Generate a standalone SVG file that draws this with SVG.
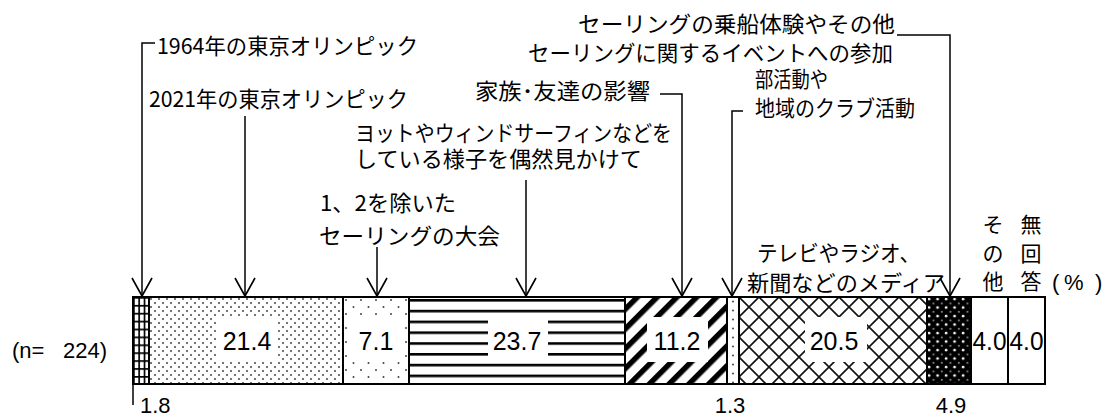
<svg xmlns="http://www.w3.org/2000/svg" width="1110" height="416" viewBox="0 0 1110 416">
<defs>
<style>
.lbl{font-family:'Noto Sans CJK JP','Noto Sans CJK SC',sans-serif;font-size:22px;fill:#000}
.vt{font-family:'Noto Sans CJK JP','Noto Sans CJK SC',sans-serif;font-size:21px;fill:#000;text-anchor:middle}
.num{font-family:'Liberation Sans',Arial,sans-serif;font-size:25px;fill:#000;text-anchor:middle}
.sm{font-family:'Liberation Sans',Arial,sans-serif;font-size:22px;fill:#000}
.cn{fill:none;stroke:#000;stroke-width:1.5}
.seg{stroke:#000;stroke-width:2}
.box{fill:#fff}
</style>
<marker id="arrow" markerUnits="userSpaceOnUse" markerWidth="22" markerHeight="24" viewBox="0 0 22 24" refX="20" refY="12" orient="auto">
<path d="M2,2 L20,12 L2,22" fill="none" stroke="#000" stroke-width="1.6"/>
</marker>
<pattern id="pGrid" patternUnits="userSpaceOnUse" x="133" y="297" width="5.33" height="7.9">
<rect width="5.33" height="7.9" fill="#fff"/>
<rect width="1.7" height="7.9" fill="#000"/>
<rect width="5.33" height="1.7" fill="#000"/>
</pattern>
<pattern id="pDots" patternUnits="userSpaceOnUse" x="149" y="297" width="8" height="8">
<rect width="8" height="8" fill="#fff"/>
<circle cx="2" cy="2" r="0.9" fill="#333"/>
<circle cx="6" cy="6" r="0.9" fill="#333"/>
</pattern>
<pattern id="pSparse" patternUnits="userSpaceOnUse" x="343" y="297" width="15" height="14">
<rect width="15" height="14" fill="#fff"/>
<circle cx="3" cy="3" r="1" fill="#444"/>
<circle cx="10.5" cy="10" r="1" fill="#444"/>
</pattern>
<pattern id="pH" patternUnits="userSpaceOnUse" x="409" y="299" width="10" height="10.8">
<rect width="10" height="10.8" fill="#fff"/>
<rect width="10" height="2.6" fill="#000"/>
</pattern>
<pattern id="pDiag" patternUnits="userSpaceOnUse" width="14" height="14" patternTransform="rotate(45)">
<rect width="14" height="14" fill="#fff"/>
<rect width="5.5" height="14" fill="#000"/>
</pattern>
<pattern id="pCol" patternUnits="userSpaceOnUse" x="727" y="297" width="12" height="9">
<rect width="12" height="9" fill="#fff"/>
<circle cx="6" cy="4.5" r="1" fill="#444"/>
</pattern>
<pattern id="pCross" patternUnits="userSpaceOnUse" x="739" y="297" width="20" height="20">
<rect width="20" height="20" fill="#fff"/>
<path d="M-1,-1 L21,21 M21,-1 L-1,21" stroke="#111" stroke-width="1.6"/>
</pattern>
<pattern id="pBlk" patternUnits="userSpaceOnUse" x="927" y="297" width="8.5" height="8.5">
<rect width="8.5" height="8.5" fill="#000"/>
<circle cx="2.1" cy="2.1" r="1.3" fill="#fff"/>
<circle cx="6.4" cy="6.4" r="1" fill="#999"/>
</pattern>
</defs>
<rect width="1110" height="416" fill="#fff"/>

<g id="bar">
<g id="seg1"><rect class="seg" x="133" y="297" width="16" height="87" fill="url(#pGrid)"/></g>
<g id="seg2"><rect class="seg" x="149" y="297" width="194" height="87" fill="url(#pDots)"/><rect class="box" x="217" y="317" width="60" height="45"/><text class="num" x="247" y="350">21.4</text></g>
<g id="seg3"><rect class="seg" x="343" y="297" width="66" height="87" fill="url(#pSparse)"/><rect class="box" x="350" y="317" width="52" height="45"/><text class="num" x="376" y="350">7.1</text></g>
<g id="seg4"><rect class="seg" x="409" y="297" width="216" height="87" fill="url(#pH)"/><rect class="box" x="488" y="317" width="60" height="45"/><text class="num" x="517" y="350">23.7</text></g>
<g id="seg5"><rect class="seg" x="625" y="297" width="102" height="87" fill="url(#pDiag)"/><rect class="box" x="647" y="317" width="61" height="45"/><text class="num" x="677" y="350">11.2</text></g>
<g id="seg6"><rect class="seg" x="727" y="297" width="12" height="87" fill="url(#pCol)"/></g>
<g id="seg7"><rect class="seg" x="739" y="297" width="188" height="87" fill="url(#pCross)"/><rect class="box" x="805" y="317" width="62" height="45"/><text class="num" x="834" y="350">20.5</text></g>
<g id="seg8"><rect class="seg" x="927" y="297" width="44" height="87" fill="url(#pBlk)"/></g>
<g id="seg9"><rect class="seg" x="971" y="297" width="37" height="87" fill="#fff"/><text class="num" x="989.5" y="350" textLength="34" lengthAdjust="spacingAndGlyphs">4.0</text></g>
<g id="seg10"><rect class="seg" x="1008" y="297" width="37" height="87" fill="#fff"/><text class="num" x="1026.5" y="350" textLength="34" lengthAdjust="spacingAndGlyphs">4.0</text></g>
</g>

<g id="connectors">
<path class="cn" d="M155,43 H142 V296" marker-end="url(#arrow)"/>
<path class="cn" d="M245,116 V296" marker-end="url(#arrow)"/>
<path class="cn" d="M377,247 V296" marker-end="url(#arrow)"/>
<path class="cn" d="M526,180 V296" marker-end="url(#arrow)"/>
<path class="cn" d="M660,94 H682 V296" marker-end="url(#arrow)"/>
<path class="cn" d="M743,111 H732 V296" marker-end="url(#arrow)"/>
<path class="cn" d="M897,35 H950 V296" marker-end="url(#arrow)"/>
<path class="cn" d="M133,384 V405"/>
</g>

<g id="labels">
<g id="l1"><text class="lbl" x="157" y="53.5" textLength="261" lengthAdjust="spacingAndGlyphs">1964年の東京オリンピック</text></g>
<g id="l2"><text class="lbl" x="149" y="106.5" textLength="259" lengthAdjust="spacingAndGlyphs">2021年の東京オリンピック</text></g>
<g id="l3"><text class="lbl" x="355" y="141" textLength="317" lengthAdjust="spacingAndGlyphs">ヨットやウィンドサーフィンなどを</text><text class="lbl" x="355" y="166.5" textLength="287" lengthAdjust="spacingAndGlyphs">している様子を偶然見かけて</text></g>
<g id="l4"><text class="lbl" x="320" y="210.5" textLength="136" lengthAdjust="spacingAndGlyphs">1、2を除いた</text><text class="lbl" x="319" y="243.5" textLength="181" lengthAdjust="spacingAndGlyphs">セーリングの大会</text></g>
<g id="l5"><text class="lbl" x="475" y="98.5" textLength="175" lengthAdjust="spacingAndGlyphs">家族･友達の影響</text></g>
<g id="l6"><text class="lbl" x="755" y="87" textLength="73" lengthAdjust="spacingAndGlyphs">部活動や</text><text class="lbl" x="755" y="116" textLength="160" lengthAdjust="spacingAndGlyphs">地域のクラブ活動</text></g>
<g id="l7"><text class="lbl" x="578" y="31.5" textLength="317" lengthAdjust="spacingAndGlyphs">セーリングの乗船体験やその他</text><text class="lbl" x="528" y="61" textLength="365" lengthAdjust="spacingAndGlyphs">セーリングに関するイベントへの参加</text></g>
<g id="l8"><text class="lbl" x="757" y="260.5" textLength="163" lengthAdjust="spacingAndGlyphs">テレビやラジオ、</text><text class="lbl" x="747" y="290.5" textLength="198" lengthAdjust="spacingAndGlyphs">新聞などのメディア</text></g>
<g id="l9"><text class="vt"><tspan x="993" y="232">そ</tspan><tspan x="993" y="260.5">の</tspan><tspan x="993" y="289">他</tspan></text></g>
<g id="l10"><text class="vt"><tspan x="1031" y="232">無</tspan><tspan x="1031" y="260.5">回</tspan><tspan x="1031" y="289">答</tspan></text></g>
<g id="unit"><text class="sm" y="290" font-size="23"><tspan x="1052">(</tspan><tspan x="1064">%</tspan><tspan x="1095">)</tspan></text></g>
<g id="n"><text class="sm" x="12" y="358">(n=<tspan x="63">224)</tspan></text></g>
<g id="small-values"><text class="sm" x="140" y="413">1.8</text><text class="sm" x="730" y="413" text-anchor="middle">1.3</text><text class="sm" x="951" y="413" text-anchor="middle">4.9</text></g>
</g>
</svg>
